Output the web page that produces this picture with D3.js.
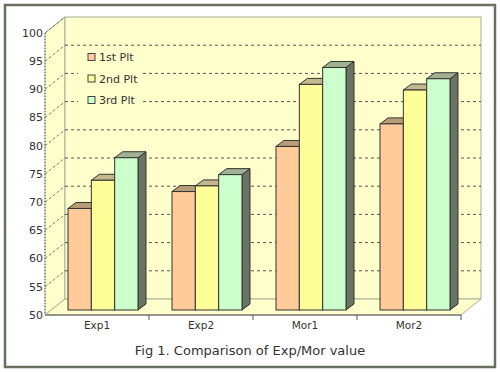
<!DOCTYPE html>
<html>
<head>
<meta charset="utf-8">
<script src="https://cdn.jsdelivr.net/npm/d3@7"></script>
<style>
  body { margin: 0; background: #fff; }
  svg { display: block; font-family: "DejaVu Sans", Verdana, sans-serif; }
</style>
</head>
<body>
<svg id="chart" width="500" height="372"></svg>
<script>
// data
const categories = ["Exp1", "Exp2", "Mor1", "Mor2"];
const series = ["1st Plt", "2nd Plt", "3rd Plt"];
const plt1 = [68, 71, 79, 83];
const plt2 = [73, 72, 90, 89];
const plt3 = [77, 74, 93, 91];
const yTicks = [50, 55, 60, 65, 70, 75, 80, 85, 90, 95, 100];
const title = "Fig 1. Comparison of Exp/Mor value";

const values = [plt1, plt2, plt3];
const frontColors = ["#ffcc99", "#ffff99", "#ccffcc"];
const topColors = ["#b89c78", "#c4b88c", "#a0b291"];
const sideColor = "#6a7462";
const wall = "#ffffcc";

// geometry of the 3d box
const pLeft = 45, pRight = 461, pBottom = 315, pTop = 33;
const dx = 20, dy = -16;       // depth of the box
const bx = 6, by = -5;         // where bars sit inside the depth
const tx = 8, ty = -6;         // bar thickness

const svg = d3.select("#chart");

// outer frame
svg.append("rect")
  .attr("x", 5).attr("y", 5).attr("width", 490).attr("height", 362)
  .attr("fill", "#fff").attr("stroke", "#687060").attr("stroke-width", 2.5);

const y = d3.scaleLinear().domain([50, 100]).range([pBottom, pTop]);
const x = d3.scaleBand().domain(categories).range([pLeft, pRight])
  .paddingInner(0.327).paddingOuter(0.1635);
const xs = d3.scaleBand().domain(series).range([0, x.bandwidth()]);

const pts = a => a.map(p => p.join(",")).join(" ");

// left wall
svg.append("polygon")
  .attr("points", pts([[pLeft, y(100)], [pLeft + dx, y(100) + dy], [pLeft + dx, pBottom + dy], [pLeft, pBottom]]))
  .attr("fill", wall).attr("stroke", "#a8b098");

// back wall
svg.append("rect")
  .attr("x", pLeft + dx).attr("y", y(100) + dy)
  .attr("width", pRight - pLeft).attr("height", pBottom - y(100))
  .attr("fill", wall).attr("stroke", "#a8b098");

// floor
svg.append("polygon")
  .attr("points", pts([[pLeft, pBottom], [pRight, pBottom], [pRight + dx, pBottom + dy], [pLeft + dx, pBottom + dy]]))
  .attr("fill", wall).attr("stroke", "#a8b098");

// gridlines on back wall
svg.append("g").selectAll("line")
  .data(yTicks.filter(d => d > 50 && d < 100))
  .join("line")
  .attr("x1", pLeft + dx).attr("x2", pRight + dx)
  .attr("y1", d => y(d) + dy).attr("y2", d => y(d) + dy)
  .attr("stroke", "#555").attr("stroke-dasharray", "3,3");

// diagonal dashes on left wall
svg.append("g").selectAll("line")
  .data(yTicks.filter(d => d > 50))
  .join("line")
  .attr("x1", pLeft).attr("x2", pLeft + dx)
  .attr("y1", d => y(d)).attr("y2", d => y(d) + dy)
  .attr("stroke", "#777").attr("stroke-dasharray", "3,2");

// front y axis (dotted)
svg.append("line")
  .attr("x1", pLeft).attr("x2", pLeft).attr("y1", y(100)).attr("y2", pBottom)
  .attr("stroke", "#555").attr("stroke-dasharray", "1,2");

// tick labels
svg.append("g").selectAll("text")
  .data(yTicks)
  .join("text")
  .attr("x", pLeft - 2).attr("y", d => y(d))
  .attr("dy", "0.35em").attr("text-anchor", "end")
  .attr("font-size", 11).attr("fill", "#333")
  .text(d => d);

// legend
svg.append("rect")
  .attr("x", 78).attr("y", 47).attr("width", 65).attr("height", 62)
  .attr("fill", wall);
const lg = svg.append("g").selectAll("g")
  .data(series)
  .join("g")
  .attr("transform", (d, i) => `translate(88,${57 + i * 21.5})`);
lg.append("rect")
  .attr("x", 0).attr("y", -3.5).attr("width", 7).attr("height", 7)
  .attr("fill", (d, i) => frontColors[i]).attr("stroke", "#444");
lg.append("text")
  .attr("x", 11).attr("dy", "0.38em")
  .attr("font-size", 11).attr("fill", "#333")
  .text(d => d);

// bars, left to right so each front face hides the previous side
const bars = [];
categories.forEach((c, ci) => {
  series.forEach((s, si) => {
    bars.push({ c, s, si, v: values[si][ci] });
  });
});

const bg = svg.append("g").selectAll("g")
  .data(bars)
  .join("g");

bg.each(function (d) {
  const g = d3.select(this);
  const x0 = x(d.c) + xs(d.s) + bx;
  const x1 = x0 + xs.bandwidth();
  const yb = pBottom + by;
  const yt = y(d.v) + by;
  g.append("polygon")
    .attr("points", pts([[x1, yt], [x1 + tx, yt + ty], [x1 + tx, yb + ty], [x1, yb]]))
    .attr("fill", sideColor).attr("stroke", "#333");
  g.append("polygon")
    .attr("points", pts([[x0, yt], [x0 + tx, yt + ty], [x1 + tx, yt + ty], [x1, yt]]))
    .attr("fill", topColors[d.si]).attr("stroke", "#333");
  g.append("rect")
    .attr("x", x0).attr("y", yt).attr("width", x1 - x0).attr("height", yb - yt)
    .attr("fill", frontColors[d.si]).attr("stroke", "#333");
});

// front x axis and ticks
svg.append("line")
  .attr("x1", pLeft).attr("x2", pRight).attr("y1", pBottom).attr("y2", pBottom)
  .attr("stroke", "#555");
svg.append("g").selectAll("line")
  .data(categories)
  .join("line")
  .attr("x1", d => x(d) + x.step() * (1 - 0.1635)).attr("x2", d => x(d) + x.step() * (1 - 0.1635))
  .attr("y1", pBottom).attr("y2", pBottom + 5)
  .attr("stroke", "#555");

svg.append("g").selectAll("text")
  .data(categories)
  .join("text")
  .attr("x", d => x(d) + x.bandwidth() / 2)
  .attr("y", 329)
  .attr("text-anchor", "middle")
  .attr("font-size", 10.5).attr("fill", "#333")
  .text(d => d);

svg.append("text")
  .attr("x", 250).attr("y", 355)
  .attr("text-anchor", "middle")
  .attr("font-size", 13).attr("fill", "#333")
  .text(title);
</script>
</body>
</html>
